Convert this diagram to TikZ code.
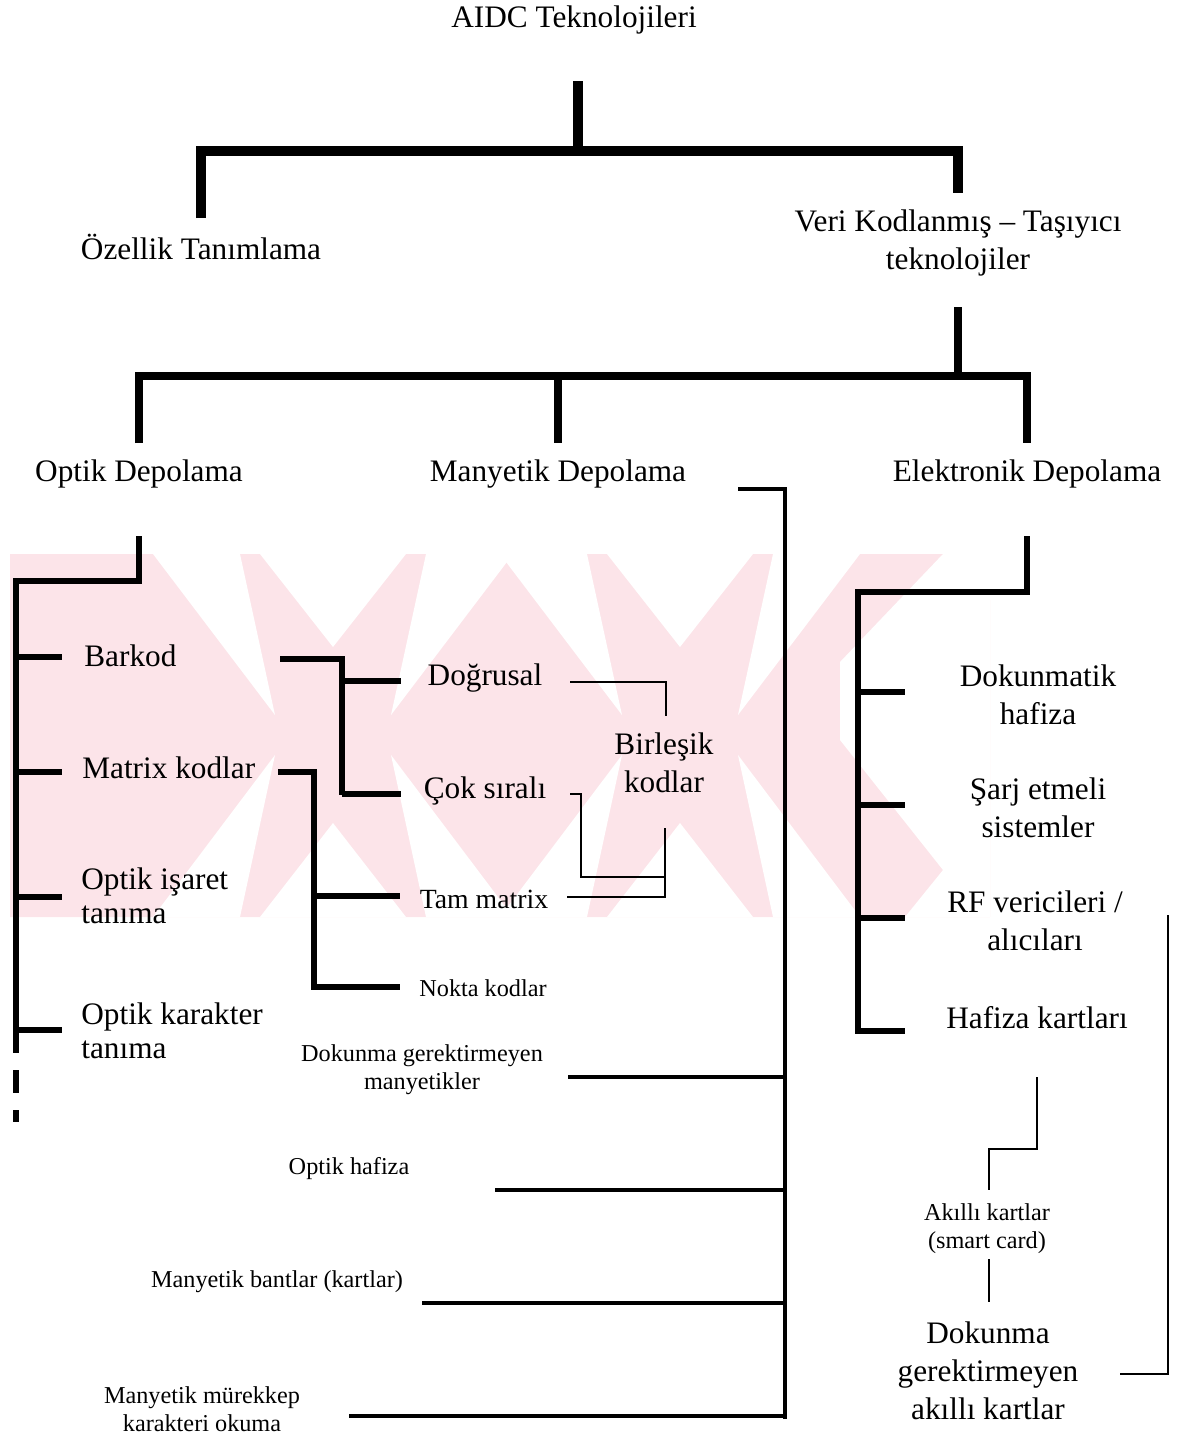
\documentclass[tikz,border=0pt]{standalone}
\usepackage{fontspec}
\setmainfont{Liberation Serif}
\usetikzlibrary{positioning}

\definecolor{wmpink}{RGB}{252,228,233}

\begin{document}
\begin{tikzpicture}[
  x=0.02cm, y=-0.02cm,
  big/.style={inner sep=0pt, align=center, font=\fontsize{17.8}{21.5}\selectfont},
  bigl/.style={inner sep=0pt, align=left, font=\fontsize{17.8}{19.5}\selectfont},
  small/.style={inner sep=0pt, align=center, font=\fontsize{13.8}{15.8}\selectfont},
  lvlA/.style={line width=6.2pt},
  lvlB/.style={line width=4.5pt},
  lvlC/.style={line width=3.4pt},
  lvlD/.style={line width=2.8pt},
  thinl/.style={line width=1.1pt}
]
\useasboundingbox (0,0) rectangle (1189,1438);

% --- background stamp
\fill[wmpink] (10,554) -- (943,554) -- (990,600) -- (990,917) -- (10,917) -- cycle;
\foreach \c in {333,680} {
  \fill[white] (\c-73,554) -- (\c+73,554) -- (\c,647) -- cycle;
  \fill[white] (\c-73,917) -- (\c+73,917) -- (\c,823) -- cycle;
  \fill[white] (\c-180,554) -- (\c-93,554) -- (\c-58,715) -- cycle;
  \fill[white] (\c+93,554) -- (\c+180,554) -- (\c+58,715) -- cycle;
  \fill[white] (\c-180,917) -- (\c-93,917) -- (\c-58,755) -- cycle;
  \fill[white] (\c+93,917) -- (\c+180,917) -- (\c+58,755) -- cycle;
}
\fill[white] (943,554) -- (990,554) -- (990,917) -- (905,917) -- (943,870) -- (840,740) -- (840,662) -- cycle;

% --- headings
\node[big] (aidc) at (574,20) {AIDC Teknolojileri};
\node[big] (ozellik) at (201,247) {Özellik Tanımlama};
\node[big] (veri) at (958,243) {Veri Kodlanmış -- Taşıyıcı\\teknolojiler};
\node[big] (optik) at (139,474) {Optik Depolama};
\node[big] (manyetik) at (558,474) {Manyetik Depolama};
\node[big] (elektronik) at (1027,474) {Elektronik Depolama};

% --- optik
\node[bigl, anchor=west] (barkod) at (84,656) {Barkod};
\node[bigl, anchor=west] (matrix) at (82,768) {Matrix kodlar};
\node[bigl, anchor=west] (isaret) at (81,896) {Optik işaret\\tanıma};
\node[bigl, anchor=west] (karakter) at (81,1031) {Optik karakter\\tanıma};
\node[big] (dogrusal) at (485,678) {Doğrusal};
\node[big] (coksirali) at (485,791) {Çok sıralı};
\node[inner sep=0pt, font=\fontsize{15.8}{18}\selectfont] (tammatrix) at (484,899) {Tam matrix};
\node[small] (nokta) at (483,988) {Nokta kodlar};
\node[big] (birlesik) at (664,763) {Birleşik\\kodlar};

% --- manyetik
\node[small] (dokunmam) at (422,1070) {Dokunma gerektirmeyen\\manyetikler};
\node[small] (ohafiza) at (349,1169) {Optik hafiza};
\node[small] (bant) at (277,1282) {Manyetik bantlar (kartlar)};
\node[small] (murekkep) at (202,1409) {Manyetik mürekkep\\karakteri okuma};

% --- elektronik
\node[big] (dokunmatik) at (1038,695) {Dokunmatik\\hafiza};
\node[big] (sarj) at (1038,808) {Şarj etmeli\\sistemler};
\node[big] (rf) at (1035,921) {RF vericileri /\\alıcıları};
\node[big] (hkart) at (1037,1018) {Hafiza kartları};
\node[small] (akilli) at (987,1229) {Akıllı kartlar\\(smart card)};
\node[big] (temassiz) at (988,1371) {Dokunma\\gerektirmeyen\\akıllı kartlar};

% --- junctions
\coordinate (j0) at (578,151);
\coordinate (j1) at (958,376);
\coordinate (j2) at (139,581);
\coordinate (j3) at (1027,592);

% first split
\draw[lvlA] (j0 |- 0,81) -- (j0);
\draw[lvlA] (ozellik.north |- 0,218) |- (j0) -| (veri.north |- 0,193);
% second split
\draw[lvlB] (j1 |- 0,307) -- (j1);
\draw[lvlB] (optik.north |- 0,443) |- (j1) -| (elektronik.north |- 0,443);
\draw[lvlB] (manyetik.north |- 0,376) -- (manyetik.north |- 0,443);

% optik depolama
\draw[lvlC] (optik.south |- 0,536) -- (j2) -- (16,581) -- (16,1053);
\draw[lvlC] (16,1070) -- (16,1093) (16,1110) -- (16,1122);
\foreach \n/\y in {barkod/657, matrix/772, isaret/897, karakter/1030}
  \draw[lvlC] (16,\y) -- (62,\y);
\draw[lvlC] (280,659) -| (342,795);
\draw[lvlC] (342,681) -- (401,681);
\draw[lvlC] (342,794) -- (401,794);
\draw[lvlC] (278,772) -| (314,987) -- (400,987);
\draw[lvlC] (314,896) -- (400,896);

% birlesik kodlar
\draw[thinl] (570,682) -| (666,716);
\draw[thinl] (570,794) -| (581,877) -- (665,877);
\draw[thinl] (665,828) |- (567,897);

% manyetik depolama
\draw[lvlD] (738,489) -| (785,1419);
\foreach \x/\y in {568/1077, 495/1190, 422/1303, 349/1416}
  \draw[lvlD] (\x,\y) -- (785,\y);

% elektronik depolama
\draw[lvlC] (elektronik.south |- 0,536) -- (j3) -| (858,1031) -- (905,1031);
\foreach \y in {692, 805, 918}
  \draw[lvlC] (858,\y) -- (905,\y);
\draw[thinl] (1037,1077) |- (989,1149) -- (989,1190);
\draw[thinl] (989,1259) -- (989,1302);
\draw[thinl] (1168,915) |- (1120,1374);
\end{tikzpicture}
\end{document}
